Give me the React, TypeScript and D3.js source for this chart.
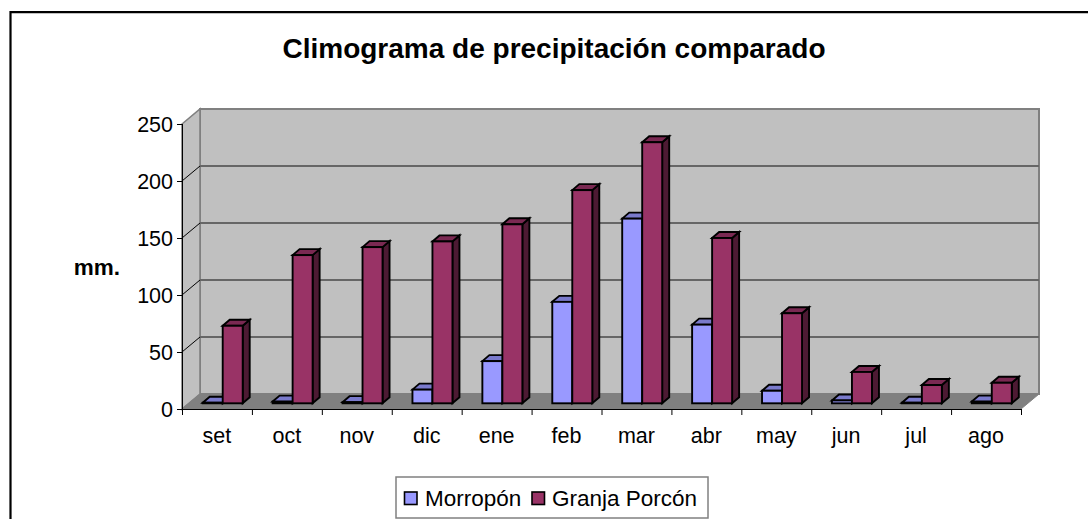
import React from 'react';
import * as d3 from 'd3';

const months = ['set', 'oct', 'nov', 'dic', 'ene', 'feb', 'mar', 'abr', 'may', 'jun', 'jul', 'ago'];
const morropon = [0.5, 1.5, 1, 12, 37, 89, 162, 69, 11, 2.5, 0.5, 1.5];
const porcon = [68, 130, 137, 142, 157, 187, 229, 145, 79, 27.5, 16, 18];
const yTicks = [0, 50, 100, 150, 200, 250];

const FONT = '"Liberation Sans", Arial, sans-serif';
const width = 1088;
const height = 519;

// front plane of the 3D box
const x0 = 182;
const x1 = 1021;
const yBase = 409;
const yTop = 124;
// wall offset and bar offset
const depthX = 18;
const depthY = 15;
const barShiftX = 5.7;
const barShiftY = 5.7;
const barDepthX = 7;
const barDepthY = 6;
const barW = 20;

const xScale = d3.scaleBand<string>().domain(months).range([x0, x1]);
const yScale = d3.scaleLinear().domain([0, 250]).range([yBase, yTop]);

const pts = (p: number[][]) => p.map((d) => d.join(',')).join(' ');

function Bar({ x, value, front, top, side }: { x: number; value: number; front: string; top: string; side: string }) {
  const bottom = yScale(0) - barShiftY;
  const y = yScale(value) - barShiftY;
  const r = x + barW;
  return (
    <g stroke="#000" strokeWidth={1.9} strokeLinejoin="miter">
      <polygon fill={side} points={pts([[r, y], [r + barDepthX, y - barDepthY], [r + barDepthX, bottom - barDepthY], [r, bottom]])} />
      <polygon fill={top} points={pts([[x, y], [x + barDepthX, y - barDepthY], [r + barDepthX, y - barDepthY], [r, y]])} />
      <rect x={x} y={y} width={barW} height={bottom - y} fill={front} />
    </g>
  );
}

export default function App() {
  const step = xScale.bandwidth();
  return (
    <svg width={width} height={height} style={{ position: 'absolute', left: 0, top: 0 }} fontFamily={FONT}>
      <rect width={width} height={height} fill="#fff" />
      {/* chart frame: only top and left edges show in the crop */}
      <path d={`M10.5,${height + 2} V12.2 H${width + 2}`} fill="none" stroke="#000" strokeWidth={2.2} />
      <text x={554} y={58} textAnchor="middle" fontSize={28} fontWeight="bold">Climograma de precipitación comparado</text>

      {/* walls and floor */}
      <polygon fill="#c0c0c0" stroke="#808080" strokeWidth={2} points={pts([[x0 + depthX, yTop - depthY], [x1 + depthX, yTop - depthY], [x1 + depthX, yBase - depthY], [x0 + depthX, yBase - depthY]])} />
      <polygon fill="#c0c0c0" stroke="#808080" strokeWidth={1.6} points={pts([[x0, yTop], [x0 + depthX, yTop - depthY], [x0 + depthX, yBase - depthY], [x0, yBase]])} />
      <polygon fill="#808080" stroke="#808080" strokeWidth={1} points={pts([[x0, yBase], [x0 + depthX, yBase - depthY], [x1 + depthX, yBase - depthY], [x1, yBase]])} />

      {/* gridlines */}
      {yTicks.filter((t) => t > 0 && t < 250).map((t) => (
        <g key={t} fill="none">
          <line x1={x0 + depthX} x2={x1 + depthX} y1={yScale(t) - depthY} y2={yScale(t) - depthY} stroke="#666" strokeWidth={1.8} />
          <line x1={x0} x2={x0 + depthX} y1={yScale(t)} y2={yScale(t) - depthY} stroke="#000" strokeWidth={1} />
        </g>
      ))}

      {/* axes */}
      <g stroke="#000" strokeWidth={1}>
        <line x1={x0 + 0.5} x2={x0 + 0.5} y1={yTop} y2={yBase} />
        <line x1={x0} x2={x1} y1={yBase + 0.5} y2={yBase + 0.5} />
        {yTicks.map((t) => (
          <line key={t} x1={x0 - 5} x2={x0} y1={yScale(t) + 0.5} y2={yScale(t) + 0.5} />
        ))}
        {d3.range(months.length + 1).map((i) => (
          <line key={i} x1={x0 + i * step + 0.5} x2={x0 + i * step + 0.5} y1={yBase} y2={yBase + 6} />
        ))}
      </g>
      <g fontSize={21.5} fill="#000">
        {yTicks.map((t) => (
          <text key={t} x={173} y={yScale(t) + 8} textAnchor="end">{t}</text>
        ))}
        {months.map((m) => (
          <text key={m} x={(xScale(m) as number) + step / 2} y={443} textAnchor="middle">{m}</text>
        ))}
      </g>
      <text x={97} y={275} textAnchor="middle" fontSize={22.5} fontWeight="bold">mm.</text>

      {/* bars */}
      {months.map((m, i) => {
        const bx = (xScale(m) as number) + 15 + barShiftX;
        return (
          <g key={m}>
            <Bar x={bx} value={morropon[i]} front="#9999ff" top="#7a7acc" side="#4d4d80" />
            <Bar x={bx + barW} value={porcon[i]} front="#993366" top="#7a2952" side="#4d1a33" />
          </g>
        );
      })}

      {/* legend */}
      <rect x={396} y={477} width={312} height={41} fill="#fff" stroke="#808080" strokeWidth={1.5} />
      <rect x={404.5} y={492} width={12.5} height={12.5} fill="#9999ff" stroke="#000" strokeWidth={1.6} />
      <text x={425} y={506} fontSize={22.5}>Morropón</text>
      <rect x={532} y={492} width={12.5} height={12.5} fill="#993366" stroke="#000" strokeWidth={1.6} />
      <text x={552} y={506} fontSize={22.5}>Granja Porcón</text>
    </svg>
  );
}
